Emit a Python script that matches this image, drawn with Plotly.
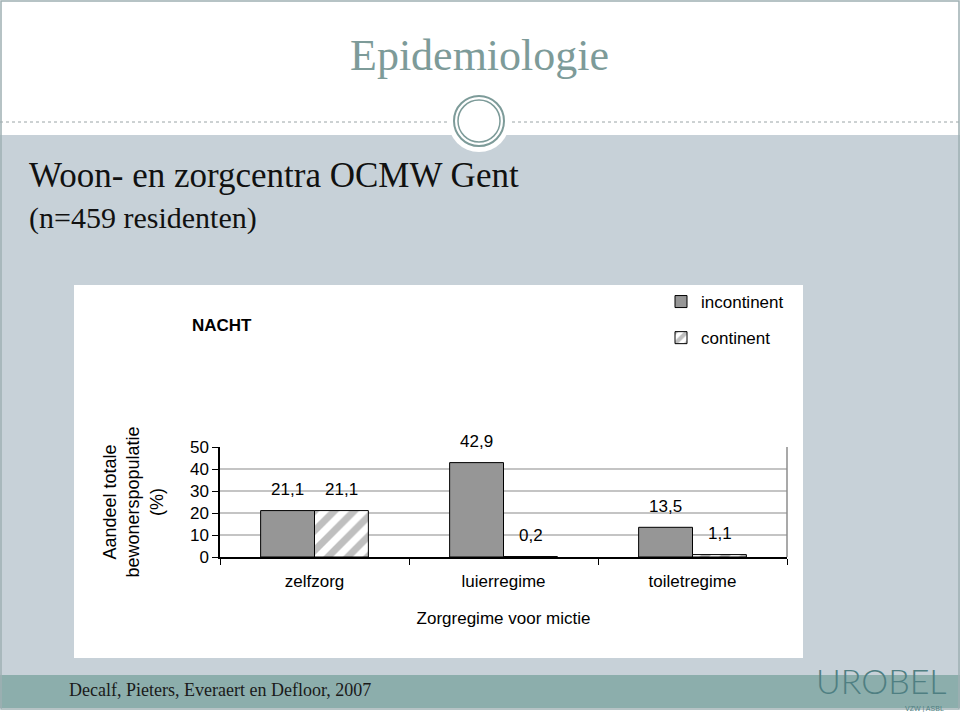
import plotly.graph_objects as go

W, H = 960, 712

# ---- data ----
categories = ["zelfzorg", "luierregime", "toiletregime"]
incontinent = [21.1, 42.9, 13.5]
continent = [21.1, 0.2, 1.1]
series_names = ["incontinent", "continent"]
y_ticks = [0, 10, 20, 30, 40, 50]


def px(x):
    return x / W


def py(y):
    return 1 - y / H


def fmt(v):
    return f"{v:.1f}".replace(".", ",")


SANS = "Liberation Sans, Arial, sans-serif"
SERIF = "Liberation Serif, Georgia, serif"

fig = go.Figure()
fig.add_bar(
    x=categories, y=incontinent, name=series_names[0], legendgroup="a",
    marker=dict(color="#969696", line=dict(color="black", width=1)),
)
fig.add_bar(
    x=categories, y=continent, name=series_names[1], legendgroup="b",
    marker=dict(
        color="white", line=dict(color="black", width=1),
        pattern=dict(shape="/", fgcolor="#808080", bgcolor="white",
                     size=14, solidity=0.5),
    ),
)

annotations = []
# value labels above bars
for cat, v in zip(categories, incontinent):
    annotations.append(dict(x=cat, y=v, xref="x", yref="y", xshift=-27, yshift=21,
                            text=fmt(v), showarrow=False, yanchor="middle",
                            font=dict(family=SANS, size=17, color="black")))
for cat, v in zip(categories, continent):
    annotations.append(dict(x=cat, y=v, xref="x", yref="y", xshift=27, yshift=21,
                            text=fmt(v), showarrow=False, yanchor="middle",
                            font=dict(family=SANS, size=17, color="black")))

# slide texts
annotations += [
    dict(x=px(479), y=py(55), xref="paper", yref="paper", text="Epidemiologie",
         showarrow=False, xanchor="center", yanchor="middle",
         font=dict(family=SERIF, size=44, color="#7d9b99")),
    dict(x=px(27), y=py(176), xref="paper", yref="paper", text="Woon- en zorgcentra OCMW Gent",
         showarrow=False, xanchor="left", yanchor="middle",
         font=dict(family=SERIF, size=35, color="#111111")),
    dict(x=px(27), y=py(218), xref="paper", yref="paper", text="(n=459 residenten)",
         showarrow=False, xanchor="left", yanchor="middle",
         font=dict(family=SERIF, size=30, color="#111111")),
    dict(x=px(67), y=py(690), xref="paper", yref="paper",
         text="Decalf, Pieters, Everaert en Defloor, 2007",
         showarrow=False, xanchor="left", yanchor="middle",
         font=dict(family=SERIF, size=18, color="#1a1a1a")),
    dict(x=px(222), y=py(326), xref="paper", yref="paper", text="<b>NACHT</b>",
         showarrow=False, xanchor="center", yanchor="middle",
         font=dict(family=SANS, size=17, color="black")),
    dict(x=px(881), y=py(703), xref="paper", yref="paper", text="UROBEL",
         showarrow=False, xanchor="center", yanchor="bottom",
         font=dict(family="Lato, Open Sans, sans-serif", size=34, color="#4f7f82", weight=300)),
    dict(x=px(946), y=py(703), xref="paper", yref="paper", text="VZW | ASBL",
         showarrow=False, xanchor="right", yanchor="top",
         font=dict(family=SANS, size=7, color="#4f7f82")),
]

shapes = [
    # blue-gray band
    dict(type="rect", xref="paper", yref="paper", x0=0, x1=1, y0=py(675), y1=py(135),
         fillcolor="#c7d1d8", line=dict(width=0), layer="below"),
    # footer band
    dict(type="rect", xref="paper", yref="paper", x0=0, x1=1, y0=py(708), y1=py(675),
         fillcolor="#8caeac", line=dict(width=0), layer="below"),
    # white chart box
    dict(type="rect", xref="paper", yref="paper", x0=px(74), x1=px(803), y0=py(658), y1=py(285),
         fillcolor="white", line=dict(width=0), layer="below"),
    # dotted separators
    dict(type="line", xref="paper", yref="paper", x0=0, x1=px(447), y0=py(122), y1=py(122),
         line=dict(color="#9aa4a6", width=1, dash="dot"), layer="below"),
    dict(type="line", xref="paper", yref="paper", x0=px(512), x1=1, y0=py(122), y1=py(122),
         line=dict(color="#9aa4a6", width=1, dash="dot"), layer="below"),
    # white disc + rings
    dict(type="circle", xref="paper", yref="paper", x0=px(479 - 31), x1=px(479 + 31),
         y0=py(121 + 31), y1=py(121 - 31), fillcolor="white", line=dict(width=0), layer="below"),
    dict(type="circle", xref="paper", yref="paper", x0=px(479 - 25), x1=px(479 + 25),
         y0=py(121 + 25), y1=py(121 - 25), line=dict(color="#7d9b99", width=2), layer="below"),
    dict(type="circle", xref="paper", yref="paper", x0=px(479 - 21), x1=px(479 + 21),
         y0=py(121 + 21), y1=py(121 - 21), line=dict(color="#7d9b99", width=1.5), layer="below"),
    # slide border
    dict(type="rect", xref="paper", yref="paper", x0=px(1), x1=px(959), y0=py(709), y1=py(1),
         line=dict(color="#9fb0b3", width=1.5), layer="above"),
    # right border of the plot area
    dict(type="line", xref="paper", yref="paper", x0=px(787), x1=px(787), y0=py(557), y1=py(447),
         line=dict(color="#8c8c8c", width=1.5)),
]

fig.update_layout(
    width=W, height=H,
    margin=dict(l=0, r=0, t=0, b=0, pad=0, autoexpand=False),
    paper_bgcolor="white",
    plot_bgcolor="white",
    barmode="group",
    bargap=0.43,
    bargroupgap=0,
    separators=",.",
    font=dict(family=SANS, size=17, color="black"),
    showlegend=True,
    legend=dict(
        x=px(661), y=py(284), xanchor="left", yanchor="top",
        bgcolor="rgba(0,0,0,0)", font=dict(family=SANS, size=17, color="black"),
        tracegroupgap=11, traceorder="grouped", itemwidth=30,
    ),
    xaxis=dict(
        domain=[px(220), px(787)], automargin=False,
        showline=True, linecolor="black", linewidth=1.5,
        ticks="outside", tickson="boundaries", ticklen=6, tickcolor="black",
        ticklabelstandoff=8,
        tickfont=dict(family=SANS, size=17, color="black"),
        title=dict(text="Zorgregime voor mictie", standoff=22,
                   font=dict(family=SANS, size=17, color="black")),
        showgrid=False,
    ),
    yaxis=dict(
        domain=[py(557), py(447)], automargin=False,
        range=[0, 50], tickvals=y_ticks,
        showline=True, linecolor="black", linewidth=1.5,
        ticks="outside", ticklen=6, tickcolor="black",
        tickfont=dict(family=SANS, size=17, color="black"),
        showgrid=True, gridcolor="#c4c4c4", gridwidth=1.5,
        zeroline=False,
        title=dict(text="Aandeel totale<br>bewonerspopulatie<br>(%)", standoff=22,
                   font=dict(family=SANS, size=18, color="black")),
    ),
    annotations=annotations,
    shapes=shapes,
)

# remove the default 8px page margin so the 960x712 figure fills the window exactly
fig.write_html("out.html", config={"displayModeBar": False},
               post_script="document.body.style.margin='0';")
